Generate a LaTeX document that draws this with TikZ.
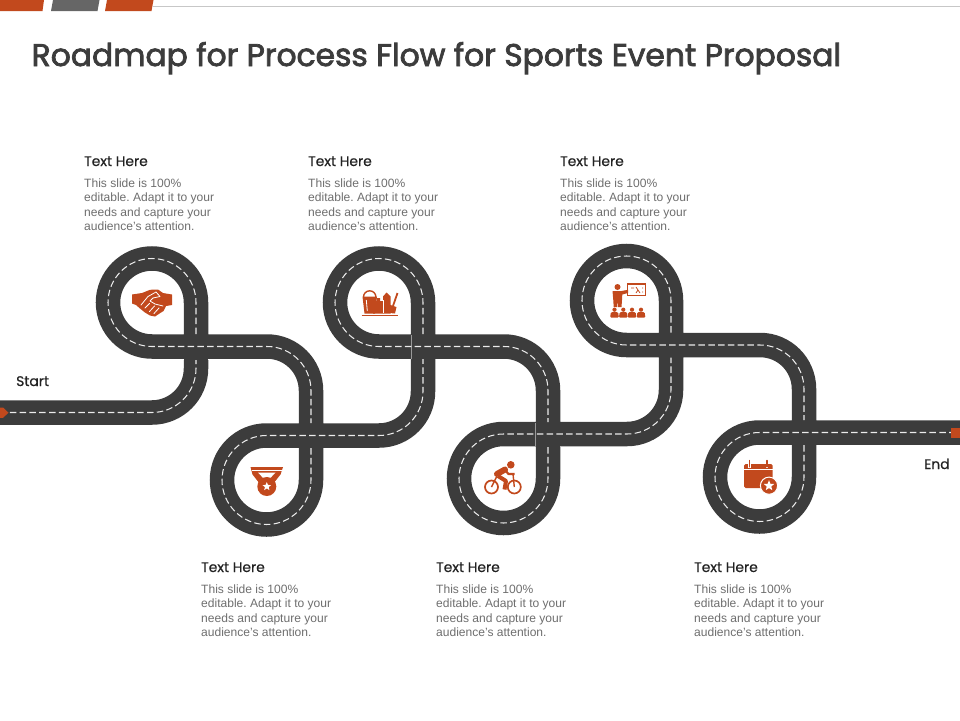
\documentclass[tikz,border=0pt]{standalone}
\usepackage{fontspec}
\usetikzlibrary{shapes.geometric}
\setmainfont{Liberation Sans}
\newfontfamily\titlefont[FakeBold=2.4]{Poppins}
\newfontfamily\headfont[FakeBold=0.6]{Poppins}
\definecolor{roadc}{HTML}{3C3C3C}
\definecolor{rust}{HTML}{C2491D}
\definecolor{slate}{HTML}{666666}
\definecolor{bodyc}{HTML}{6E6E6E}
\definecolor{inkc}{HTML}{222222}
\tikzset{
  road/.style={draw=roadc,line width=24.5pt},
  centreline/.style={draw=white!92!black,line width=1.05pt,dash pattern=on 6.5pt off 3.3pt},
  seam/.style={draw=gray!80,line width=0.7pt},
  ic/.style={fill=rust,draw=none},
  icl/.style={draw=rust,line width=1.7pt,fill=none},
  wl/.style={draw=white,line width=0.8pt,line cap=round,line join=round},
  head/.style={anchor=base west,inner sep=0pt,text=inkc,font=\headfont\fontsize{13.9}{15}\selectfont},
  bodyt/.style={anchor=north west,inner sep=0pt,align=left,text=bodyc,font=\frenchspacing\fontsize{12.05}{14.4}\selectfont},
  starmark/.style={star,star points=5,star point ratio=2.3,fill=white,draw=none,inner sep=0pt,minimum size=#1},
}
\def\segA{(0,412.5) -- (152,412.5) arc[start angle=90,end angle=0,radius=44] -- (196,360)}
\def\segB{(196,334) -- (196,302.5) arc[start angle=0,end angle=-270,radius=44] -- (267,346.5) arc[start angle=-90,end angle=0,radius=44] -- (311,423)}
\def\segC{(311,448) -- (311,480) arc[start angle=0,end angle=270,radius=44.5] -- (379,435.5) arc[start angle=90,end angle=0,radius=44] -- (423,359)}
\def\segD{(423,334) -- (423,302.5) arc[start angle=0,end angle=-270,radius=44] -- (504,346.5) arc[start angle=-90,end angle=0,radius=44] -- (548,422)}
\def\segE{(548,447) -- (548,478.5) arc[start angle=0,end angle=270,radius=44.5] -- (627,434) arc[start angle=90,end angle=0,radius=44] -- (671,357.5)}
\def\segF{(671,332.5) -- (671,300.5) arc[start angle=0,end angle=-270,radius=44.5] -- (760,345) arc[start angle=-90,end angle=0,radius=44] -- (804,420)}
\def\segG{(804,445) -- (804,477) arc[start angle=0,end angle=270,radius=44.5] -- (960,432.5)}
\newcommand{\blurb}[3]{%
  \node[head] (#3h) at (#1,#2+5) {Text Here};
  \node[bodyt] (#3b) at (#1,#2+17.3) {This slide is 100\%\\editable. Adapt it to your\\needs and capture your\\audience's attention.};
}
\begin{document}
\begin{tikzpicture}[x=1pt,y=-1pt]
\useasboundingbox (0,0) rectangle (960,720);
% header band
\fill[rust] (0,0) -- (44,0) -- (42.5,11) -- (0,11) -- cycle;
\fill[slate] (53,0) -- (99.5,0) -- (97.5,11) -- (51,11) -- cycle;
\fill[rust] (107,0) -- (153.5,0) -- (151.5,11) -- (105,11) -- cycle;
\draw[draw=black!22,line width=0.8pt] (152.5,6.3) -- (960,6.3);
\node[anchor=base west,inner sep=0pt,text=roadc,font=\titlefont\fontsize{31.35}{36}\selectfont] (title) at (31.5,66) {Roadmap for Process Flow for Sports Event Proposal};
% road
\draw[road] \segA \segB \segC \segD \segE \segF \segG;
\draw[road] (196,365) -- (196,330) (311,418) -- (311,452) (423,364) -- (423,330) (548,417) -- (548,452) (671,362) -- (671,328) (804,415) -- (804,450);
\draw[seam] (411,335) -- (411,358.5);
\draw[seam] (535.5,422.5) -- (535.5,446.5);
\draw[centreline] \segA;
\draw[centreline] \segB;
\draw[centreline] \segC;
\draw[centreline] \segD;
\draw[centreline] \segE;
\draw[centreline] \segF;
\draw[centreline] \segG;
% ends
\fill[rust] (0,407.5) -- (3,407.5) -- (8.5,412.7) -- (3,417.8) -- (0,417.8) -- cycle;
\fill[rust] (950.7,428) rectangle (960,438);
\node[head] (startl) at (16,386) {Start};
\node[head] (endl) at (924,469) {End};
% text blocks
\blurb{84}{161}{a}
\blurb{308}{161}{b}
\blurb{560}{161}{c}
\blurb{201}{567}{d}
\blurb{436}{567}{e}
\blurb{694}{567}{f}
% handshake
\fill[ic] (132,294.5) -- (142,293) -- (150,289.8) -- (158,289.5) -- (163,293) -- (172,294.5) -- (172,305) -- (166,306) -- (163.5,311) -- (159.5,313.5) -- (155,316.5) -- (150,315.5) -- (145,312.5) -- (140,308.5) -- (136,305) -- (132,303.5) -- cycle;
\draw[wl] (141,305) -- (148,296.5) -- (156,292) -- (160,296.5) -- (153,298) -- (150,301) -- (155,304) -- (163,306);
\draw[wl] (145,308) -- (149.5,303.5);
\draw[wl] (149.5,311.5) -- (154.5,306);
\draw[wl] (154,313.5) -- (159,308);
% medal
\fill[ic] (250.5,467) -- (283,467) -- (280.5,474.5) -- (273,484) -- (260,484) -- (252.5,474.5) -- cycle;
\fill[white] (258,472.5) -- (275.5,472.5) -- (268.5,480) -- (265,480) -- cycle;
\draw[draw=white,line width=0.7pt] (252,470) -- (281.5,470);
\fill[ic] (266.8,486.5) circle[radius=9.5];
\node[starmark=9pt] (medalstar) at (266.8,486.5) {};
% bucket, castle, spade
\draw[draw=rust,line width=1.4pt] (363.5,297) arc[start angle=180,end angle=360,radius=6.2];
\fill[ic] (362.5,296.5) -- (377,296.5) -- (375,313.5) -- (364.5,313.5) -- cycle;
\draw[draw=white,line width=0.8pt] (366.3,300) -- (367.3,311);
\fill[ic] (373.5,301) -- (376.5,301) -- (376.5,298) -- (380,298) -- (380,301) -- (383,301) -- (383,296.5) -- (386.5,292.5) -- (390.5,296.5) -- (390.5,313.5) -- (373,313.5) -- cycle;
\draw[draw=white,line width=0.7pt] (383.7,300) -- (383.7,313);
\draw[draw=rust,line width=1.8pt] (397.5,293) -- (393,306);
\fill[ic] (389,304.5) -- (396.5,307) -- (395,313.5) -- (389.5,313) -- cycle;
\draw[draw=rust,line width=1.1pt] (361.7,315.3) -- (398,315.3);
% cyclist
\draw[icl] (491.5,487) circle[radius=6.5];
\draw[icl] (514.3,487) circle[radius=6.5];
\fill[ic] (510.8,464.8) circle[radius=3.8];
\draw[draw=rust,line width=6pt,line cap=round] (497,474) -- (505,469.5);
\draw[draw=rust,line width=4pt,line join=round] (498,476) -- (506,481) -- (504.5,489.5);
\draw[draw=rust,line width=2.2pt,line join=round] (505,470) -- (508.5,474) -- (514.5,474);
\draw[draw=rust,line width=1.4pt] (513,474) -- (514.3,487);
\draw[draw=rust,line width=1.4pt] (491.5,487) -- (496.5,477);
% teacher
\draw[draw=rust,line width=1.3pt,fill=white] (627.3,284) rectangle (645.5,295.5);
\draw[draw=rust,line width=0.8pt] (631,288) -- (634,288) (636,287) -- (640,293) (636,293) -- (638,290) (642,288) -- (643,288) (642,292) -- (643,292);
\fill[ic] (617.5,287) circle[radius=3];
\fill[ic] (612.5,291) -- (621.5,291) -- (628,289.8) -- (628,293) -- (622.3,294.5) -- (622,300) -- (621.5,307) -- (618,307) -- (617.5,300) -- (617,307) -- (613.7,307) -- (613.2,299) -- cycle;
\foreach \px/\pn in {614.5/1,623.3/2,632/3,641/4}{
  \fill[ic] (\px,309.7) circle[radius=2.1];
  \fill[ic,rounded corners=1pt] (\px-4.4,317.5) -- (\px-3.6,312.2) -- (\px+3.6,312.2) -- (\px+4.4,317.5) -- cycle;
}
% calendar
\fill[ic,rounded corners=1.5pt] (744,464) rectangle (772.5,488);
\draw[draw=white,line width=0.8pt] (744,469.5) -- (772.5,469.5);
\draw[draw=white,line width=2.8pt] (749.5,460) -- (749.5,468);
\draw[draw=white,line width=2.8pt] (767,460) -- (767,468);
\draw[draw=rust,line width=1.4pt,line cap=round] (749.5,460.5) -- (749.5,466.8);
\draw[draw=rust,line width=1.4pt,line cap=round] (767,460.5) -- (767,466.8);
\fill[ic,draw=white,line width=1pt] (769,485.7) circle[radius=8.6];
\node[starmark=11pt] (calstar) at (769,485.7) {};
\end{tikzpicture}
\end{document}
